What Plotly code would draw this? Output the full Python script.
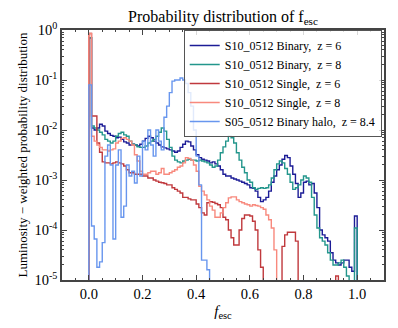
import numpy as np
import plotly.graph_objects as go

# histogram bins, f_esc from 0 to 1 in steps of 0.01
bin_edges = np.round(np.linspace(0.0, 1.0, 101), 2)

binary_z6 = [
    0.7, 0.011, 0.010, 0.011, 0.013, 0.012, 0.0095, 0.0085, 0.0078, 0.0075,
    0.007, 0.0072, 0.0065, 0.0058, 0.0055, 0.005, 0.0052, 0.005, 0.0048, 0.0052,
    0.006, 0.0068, 0.0075, 0.007, 0.006, 0.0055, 0.005, 0.0046, 0.0044, 0.0042,
    0.004, 0.0038, 0.0036, 0.0038, 0.0045, 0.0052, 0.006, 0.0058, 0.0048, 0.004,
    0.0032, 0.0028, 0.0026, 0.0025, 0.0024, 0.0022, 0.0023, 0.0021, 0.0019, 0.0016,
    0.0013, 0.0012, 0.0012, 0.0011, 0.00105, 0.001, 0.00095, 0.0009, 0.00085, 0.0008,
    0.0007, 0.00068, 0.0006, 0.00045, 0.00037, 0.0004, 0.00045, 0.0006, 0.0009, 0.0012,
    0.0016, 0.002, 0.0026, 0.0031, 0.0028, 0.0019, 0.0013, 0.00085, 0.00045, 0.00055,
    0.0009, 0.00095, 0.0008, 0.00085, 0.00055, 0.00028, 0.0001, 0.00008, 0.00007, 0.00006,
    0.000035, 0.000025, 0.000022, 0.00002, 0.000022, 0.000025, 0.000025, 0.000018, 0.000015, 0.00019,
]

binary_z8 = [
    0.7, 0.012, 0.011, 0.010, 0.009, 0.008, 0.0065, 0.006, 0.0055, 0.006,
    0.0075, 0.0085, 0.009, 0.008, 0.0075, 0.006, 0.0052, 0.005, 0.0046, 0.0045,
    0.0045, 0.0048, 0.0055, 0.006, 0.0065, 0.0075, 0.009, 0.011, 0.0095, 0.0065,
    0.0045, 0.003, 0.0025, 0.0023, 0.0022, 0.0024, 0.0025, 0.0026, 0.0025, 0.0025,
    0.0024, 0.0025, 0.0024, 0.0023, 0.0022, 0.002, 0.0018, 0.0019, 0.0025, 0.0035,
    0.0046, 0.006, 0.0075, 0.007, 0.0055, 0.0035, 0.0025, 0.0018, 0.0014, 0.001,
    0.0009, 0.0007, 0.00065, 0.00068, 0.0007, 0.00068, 0.0007, 0.0008, 0.0011, 0.0016,
    0.0021, 0.0024, 0.0022, 0.0017, 0.0013, 0.0009, 0.00065, 0.0007, 0.0008, 0.001,
    0.0012, 0.0011, 0.0009, 0.00045, 0.0002, 0.00011, 0.00007, 0.00006, 0.00005, 0.000035,
    0.000025, 0.00002, 0.00002, 0.000022, 0.000025, 0.000018, 0.000012, 0.0, 0.0, 0.00011,
]

single_z6 = [
    0.85, 0.019, 0.019, 0.0055, 0.0036, 0.0023, 0.0022, 0.0022, 0.0021, 0.0022,
    0.0023, 0.0022, 0.0021, 0.0019, 0.0016, 0.0014, 0.0014, 0.0013, 0.0013, 0.0013,
    0.0012, 0.0012, 0.0011, 0.0011, 0.001, 0.00095, 0.0009, 0.00088, 0.00085, 0.0008,
    0.0008, 0.0007, 0.00065, 0.0006, 0.00055, 0.00045, 0.00045, 0.00042, 0.0004, 0.0004,
    0.00033, 0.00028, 0.00022, 0.0002, 0.00035, 0.00037, 0.00036, 0.00034, 0.00032, 0.00028,
    0.00018, 0.00016, 0.0001, 0.00007, 0.00005, 0.00005, 0.0001, 0.00017, 0.0002, 0.0002,
    0.00019, 0.00015, 0.0001, 0.00004, 0.000018, 0.0, 0.0, 0.0, 0.0, 0.0,
    0.0, 0.0, 0.000047, 0.00008, 0.00009, 0.00009, 0.00009, 0.00006, 0.0, 0.0,
    0.0, 0.0, 0.0, 0.0, 0.0, 0.0, 0.0, 0.0, 0.0, 0.0,
    0.0, 0.0, 0.000012, 0.0, 0.0, 0.0, 0.0, 0.0, 0.0, 0.0,
]

single_z8 = [
    0.85, 0.0075, 0.006, 0.005, 0.0045, 0.004, 0.004, 0.0038, 0.004, 0.0042,
    0.0055, 0.006, 0.0068, 0.007, 0.0065, 0.006, 0.005, 0.0032, 0.0024, 0.0015,
    0.0013, 0.0013, 0.0014, 0.0015, 0.0015, 0.0013, 0.0014, 0.0017, 0.0013, 0.0013,
    0.0014, 0.0015, 0.0016, 0.0018, 0.0019, 0.0022, 0.0028, 0.0027, 0.0025, 0.002,
    0.0015, 0.00075, 0.0006, 0.0005, 0.0004, 0.0003, 0.00025, 0.00018, 0.00018, 0.00022,
    0.00028, 0.00035, 0.00044, 0.00046, 0.00046, 0.0004, 0.00037, 0.00035, 0.00033, 0.00032,
    0.0003, 0.00032, 0.00031, 0.0003, 0.00028, 0.00026, 0.0002, 0.00016, 0.00011, 0.00004,
    0.0, 0.0, 0.0, 0.0, 0.0, 0.0, 0.0, 0.0, 0.0, 0.0,
    0.0, 0.0, 0.0, 0.0, 0.0, 0.0, 0.0, 0.0, 0.0, 0.0,
    0.0, 0.0, 0.0, 0.0, 0.0, 0.0, 0.0, 0.0, 0.0, 0.0,
]

binary_halo_z84 = [
    0.08, 0.00012, 0.000066, 0.000018, 0.000023, 0.000056, 0.003, 0.005, 0.002, 0.000066,
    0.002, 0.004, 0.00018, 0.0003, 0.002, 0.0012, 0.0015, 0.00087, 0.003, 0.0012,
    0.006, 0.004, 0.01, 0.005, 0.003, 0.01, 0.006, 0.004, 0.018, 0.03,
    0.056, 0.095, 0.1, 0.1, 0.11, 0.1, 0.085, 0.056, 0.03, 0.01,
    0.003, 0.0008, 0.000025, 0.000025, 0.000016, 0.0, 0.0, 0.0, 0.0, 0.0,
    0.0, 0.0, 0.0, 0.0, 0.0, 0.0, 0.0, 0.0, 0.0, 0.0,
    0.0, 0.0, 0.0, 0.0, 0.0, 0.0, 0.0, 0.0, 0.0, 0.0,
    0.0, 0.0, 0.0, 0.0, 0.0, 0.0, 0.0, 0.0, 0.0, 0.0,
    0.0, 0.0, 0.0, 0.0, 0.0, 0.0, 0.0, 0.0, 0.0, 0.0,
    0.0, 0.0, 0.0, 0.0, 0.0, 0.0, 0.0, 0.0, 0.0, 0.0,
]

series = [
    ("S10_0512 Binary,  z = 6", binary_z6, "#1c1c96"),
    ("S10_0512 Binary,  z = 8", binary_z8, "#23968c"),
    ("S10_0512 Single,  z = 6", single_z6, "#c0393d"),
    ("S10_0512 Single,  z = 8", single_z8, "#f8897d"),
    ("S05_0512 Binary halo,  z = 8.4", binary_halo_z84, "#6896ee"),
]

FONT = "Liberation Serif"
FLOOR = 1e-9  # empty bins drop below the visible range, like a step histogram


def step_xy(vals):
    v = [y if y > 0 else FLOOR for y in vals]
    xs = [bin_edges[0]] + list(bin_edges[:-1]) + [bin_edges[-1], bin_edges[-1]]
    ys = [FLOOR] + v + [v[-1], FLOOR]
    return xs, ys


fig = go.Figure()
for name, vals, color in series:
    xs, ys = step_xy(vals)
    fig.add_trace(go.Scatter(
        x=xs, y=ys, mode="lines", name=name,
        line=dict(color=color, width=1.4, shape="hv"),
    ))

minor_y = [k * 10.0 ** e for e in range(-5, 0) for k in range(2, 10)]

# page body has an 8px margin, so the figure is a bit smaller than the window
fig.update_layout(
    width=390, height=320,
    paper_bgcolor="white", plot_bgcolor="white",
    font=dict(family=FONT, size=12, color="black"),
    title=dict(text="Probability distribution of f<sub>esc</sub>",
               x=0.5, xref="paper", xanchor="center", y=0.975, yanchor="middle",
               font=dict(size=16)),
    margin=dict(l=54, r=14, t=22, b=48),
    showlegend=True,
    legend=dict(x=0.378, y=1.0, xanchor="left", yanchor="top",
                bgcolor="rgba(255,255,255,0.8)", bordercolor="#555", borderwidth=1,
                font=dict(size=12), tracegroupgap=0, itemwidth=30),
)
fig.update_xaxes(
    range=[-0.1, 1.1], tickmode="linear", tick0=0, dtick=0.2, tickformat=".1f",
    ticks="inside", ticklen=5, tickcolor="#444", mirror="ticks",
    showline=True, linecolor="#444", linewidth=1.5, showgrid=False, zeroline=False,
    minor=dict(tickmode="linear", tick0=0, dtick=0.05, ticks="inside", ticklen=2.5, tickcolor="#444"),
    tickfont=dict(size=14.5),
    title=dict(text="<i>f</i><sub>esc</sub>", font=dict(size=15), standoff=4),
)
fig.update_yaxes(
    type="log", range=[-5, 0],
    tickmode="array", tickvals=[1, 0.1, 0.01, 0.001, 0.0001, 0.00001],
    ticktext=["10<sup>0</sup>", "10<sup>-1</sup>", "10<sup>-2</sup>",
              "10<sup>-3</sup>", "10<sup>-4</sup>", "10<sup>-5</sup>"],
    ticks="inside", ticklen=5, tickcolor="#444", mirror="ticks",
    showline=True, linecolor="#444", linewidth=1.5, showgrid=False, zeroline=False,
    minor=dict(tickmode="array", tickvals=minor_y, ticks="inside", ticklen=2.5, tickcolor="#444"),
    tickfont=dict(size=14.5),
    title=dict(text="Luminosity − weighted probability distribution", font=dict(size=13), standoff=4),
)

fig.write_html("out.html")
